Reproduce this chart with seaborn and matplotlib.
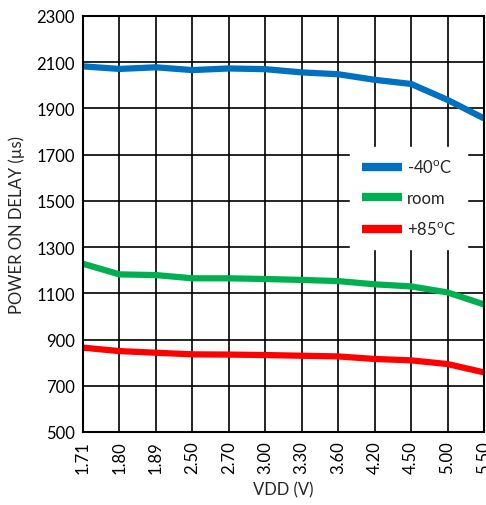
import matplotlib
matplotlib.use("Agg")
import matplotlib.pyplot as plt
import seaborn as sns
import pandas as pd

vdd = ["1.71", "1.80", "1.89", "2.50", "2.70", "3.00", "3.30", "3.60", "4.20", "4.50", "5.00", "5.50"]
cold = [2082, 2071, 2078, 2066, 2073, 2070, 2056, 2048, 2024, 2006, 1937, 1857]
room = [1228, 1182, 1179, 1165, 1165, 1162, 1158, 1153, 1139, 1130, 1104, 1052]
hot = [865, 850, 843, 836, 835, 833, 830, 827, 816, 810, 794, 758]
series_names = ["-40$^\\mathregular{o}$C", "room", "+85$^\\mathregular{o}$C"]
colors = ["#0070C0", "#00B050", "#FF0000"]
yticks = list(range(500, 2301, 200))

sns.set_style("white")
plt.rcParams['font.family'] = ['Lato', 'DejaVu Sans']

rows = []
for name, vals in zip(series_names, [cold, room, hot]):
    for i, (x, v) in enumerate(zip(vdd, vals)):
        rows.append({"idx": i, "VDD": x, "delay": v, "series": name})
df = pd.DataFrame(rows)

fig = plt.figure(figsize=(4.86, 5.06), dpi=100)
ax = fig.add_axes([83/486, 1 - 433/506, (484 - 83)/486, (433 - 17)/506])

sns.lineplot(data=df, x="idx", y="delay", hue="series", palette=colors,
             hue_order=series_names, linewidth=4.5, ax=ax, legend=True,
             solid_capstyle="butt", solid_joinstyle="round")

ax.set_xlim(0, len(vdd) - 1)
ax.set_ylim(500, 2300)
ax.set_xticks(range(len(vdd)))
ax.set_xticklabels(vdd, rotation=90, fontsize=12)
ax.set_yticks(yticks)
ax.set_yticklabels([str(t) for t in yticks], fontsize=12)
ax.grid(True, color="black", linewidth=1.2)
ax.set_axisbelow(True)
for s in ax.spines.values():
    s.set_color("black")
    s.set_linewidth(1.5)
ax.tick_params(axis="both", length=0, pad=6, colors="black")
ax.set_xlabel("VDD (V)", fontsize=12, labelpad=6)
ax.set_ylabel("POWER ON DELAY (µs)", fontsize=12, labelpad=8)

leg = ax.legend(loc="upper left", bbox_to_anchor=(0.645, 0.705), frameon=True,
                fontsize=12, handlelength=2.4, labelspacing=0.85,
                borderpad=0.7, handletextpad=0.3)
leg.get_frame().set_facecolor("white")
leg.get_frame().set_edgecolor("white")
leg.get_frame().set_alpha(1)
leg.get_frame().set_boxstyle("square", pad=0)
for line in leg.get_lines():
    line.set_linewidth(6)

fig.savefig("out.png", dpi=100)
